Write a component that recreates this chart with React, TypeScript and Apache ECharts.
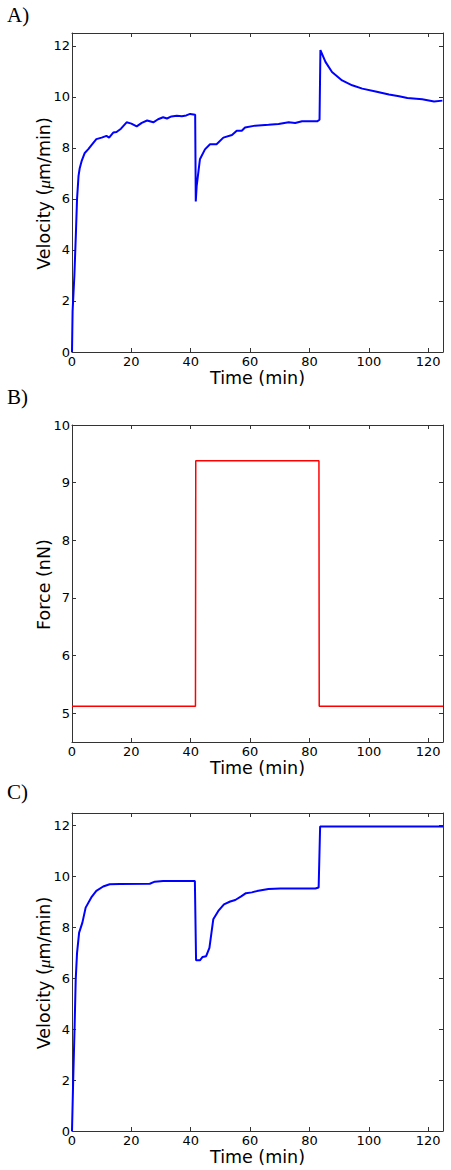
import React, { useEffect, useRef } from "react";
import * as echarts from "echarts";

// Panel A: measured velocity (µm/min) vs time (min)
const timeA = [0, 0.2, 0.8, 1.3, 1.7, 2.2, 2.6, 3.3, 4.3, 5.5, 6.5, 8.2, 10, 11.6, 12.5, 13.9, 15, 16.5, 18.4, 20, 21.8, 23.5, 25.3, 27.4, 29, 30.7, 32, 33.5, 35.3, 37, 38.5, 39.8, 41.5, 41.7, 42.0, 43.1, 44.8, 46.5, 48.7, 51, 53.9, 55.5, 57.2, 58.3, 61.7, 66.2, 69.6, 73, 75.2, 77.5, 82.6, 83.4, 83.7, 85.4, 87.6, 91, 94.4, 97.8, 102.3, 106.8, 110.2, 113, 118, 122, 124.8, 125];
const velA = [0, 1.6, 3.0, 4.6, 6.0, 6.9, 7.2, 7.5, 7.8, 7.95, 8.1, 8.34, 8.4, 8.47, 8.4, 8.6, 8.62, 8.75, 9.0, 8.95, 8.84, 8.98, 9.07, 9.0, 9.12, 9.2, 9.15, 9.23, 9.26, 9.24, 9.27, 9.33, 9.3, 5.9, 6.5, 7.55, 7.94, 8.14, 8.14, 8.4, 8.5, 8.67, 8.67, 8.8, 8.87, 8.9, 8.93, 9.0, 8.97, 9.04, 9.04, 9.1, 11.83, 11.37, 10.97, 10.64, 10.45, 10.32, 10.21, 10.09, 10.02, 9.95, 9.9, 9.82, 9.85, 9.85];

// Panel B: applied force (nN)
const timeB = [0, 41.6, 41.7, 83.2, 83.3, 125];
const forceB = [5.12, 5.12, 9.38, 9.38, 5.12, 5.12];

// Panel C: model velocity (µm/min)
const timeC = [0, 0.4, 0.9, 1.25, 1.7, 2.4, 3.5, 4.6, 6.5, 8.2, 10.5, 12.7, 16.1, 26.2, 27.9, 30.7, 41.4, 41.8, 43.1, 44, 45.2, 46.3, 47.6, 49.3, 51.2, 53.3, 55, 57, 58.6, 60.6, 62.3, 66.2, 70.2, 82, 83.1, 83.6, 125];
const velC = [0, 2.0, 4.2, 5.95, 7.0, 7.8, 8.19, 8.78, 9.18, 9.44, 9.61, 9.7, 9.71, 9.72, 9.8, 9.83, 9.83, 6.71, 6.71, 6.84, 6.87, 7.2, 8.32, 8.65, 8.91, 9.02, 9.08, 9.22, 9.35, 9.38, 9.43, 9.51, 9.53, 9.53, 9.57, 11.97, 11.97];

const xTicks = [0, 20, 40, 60, 80, 100, 120];
const velTicks = [0, 2, 4, 6, 8, 10, 12];
const forceTicks = [5, 6, 7, 8, 9, 10];
const panelLabels = ["A)", "B)", "C)"];
const yNames = ["Velocity ({it|μ}m/min)", "Force (nN)", "Velocity ({it|μ}m/min)"];

const FRAME = "#333";
const FONT = "DejaVu Sans";

function zip(a: number[], b: number[]) {
  return a.map((t, i) => [t, b[i]]);
}

export default function App() {
  const ref = useRef<HTMLDivElement>(null);
  useEffect(() => {
    if (!ref.current) return;
    const chart = echarts.init(ref.current, null, { renderer: "svg" });
    const grids = [
      { left: 72, top: 33, width: 371, height: 319 },
      { left: 72, top: 425, width: 371, height: 317 },
      { left: 72, top: 813, width: 371, height: 318 },
    ];
    const yCfg = [
      { min: 0, max: 12.5, ticks: velTicks },
      { min: 4.5, max: 10, ticks: forceTicks },
      { min: 0, max: 12.5, ticks: velTicks },
    ];
    const xAxis: any[] = [];
    const yAxis: any[] = [];
    grids.forEach((g, i) => {
      const tick = (vals: number[]) => ({ show: true, inside: true, length: 4, customValues: vals, lineStyle: { color: FRAME, width: 1 } });
      const line = { show: true, onZero: false, lineStyle: { color: FRAME, width: 1 } };
      xAxis.push({
        type: "value", gridIndex: i, min: 0, max: 125, position: "bottom",
        axisLine: line, axisTick: tick(xTicks),
        axisLabel: { customValues: xTicks, color: "#000", fontSize: 13, fontFamily: FONT, margin: 3 },
        splitLine: { show: false },
        name: "Time (min)", nameLocation: "middle", nameGap: 14,
        nameTextStyle: { fontSize: 17.5, fontFamily: FONT, color: "#000" },
      });
      xAxis.push({
        type: "value", gridIndex: i, min: 0, max: 125, position: "top",
        axisLine: line, axisTick: tick(xTicks), axisLabel: { show: false }, splitLine: { show: false },
      });
      const yc = yCfg[i];
      yAxis.push({
        type: "value", gridIndex: i, min: yc.min, max: yc.max, position: "left",
        axisLine: line, axisTick: tick(yc.ticks),
        axisLabel: { customValues: yc.ticks, color: "#000", fontSize: 13, fontFamily: FONT, margin: 2 },
        splitLine: { show: false },
      });
      yAxis.push({
        type: "value", gridIndex: i, min: yc.min, max: yc.max, position: "right",
        axisLine: line, axisTick: tick(yc.ticks), axisLabel: { show: false }, splitLine: { show: false },
      });
    });
    const labelY = [16, 398, 793];
    const graphic: any[] = panelLabels.map((t, i) => ({
      type: "text", left: 7, top: labelY[i] - 12,
      style: { text: t, fontSize: 21, fontFamily: "Liberation Serif", fill: "#000" },
    }));
    grids.forEach((g, i) => {
      graphic.push({
        type: "text", x: 44, y: g.top + g.height / 2 + 1, rotation: Math.PI / 2,
        style: {
          text: yNames[i], fontSize: 17.5, fontFamily: FONT, fill: "#000",
          align: "center", verticalAlign: "middle",
          rich: { it: { fontSize: 17.5, fontFamily: "Liberation Serif", fontStyle: "italic", fill: "#000", verticalAlign: "middle" } },
        },
      });
    });
    chart.setOption({
      animation: false,
      backgroundColor: "#fff",
      grid: grids,
      xAxis,
      yAxis,
      graphic,
      series: [
        { type: "line", xAxisIndex: 0, yAxisIndex: 0, data: zip(timeA, velA), showSymbol: false, lineStyle: { color: "#0000ff", width: 2 } },
        { type: "line", xAxisIndex: 2, yAxisIndex: 2, data: zip(timeB, forceB), showSymbol: false, lineStyle: { color: "#ff0000", width: 1.5 } },
        { type: "line", xAxisIndex: 4, yAxisIndex: 4, data: zip(timeC, velC), showSymbol: false, lineStyle: { color: "#0000ff", width: 2 } },
      ],
    });
    return () => chart.dispose();
  }, []);
  return <div ref={ref} style={{ position: "absolute", left: 0, top: 0, width: 451, height: 1170 }} />;
}
